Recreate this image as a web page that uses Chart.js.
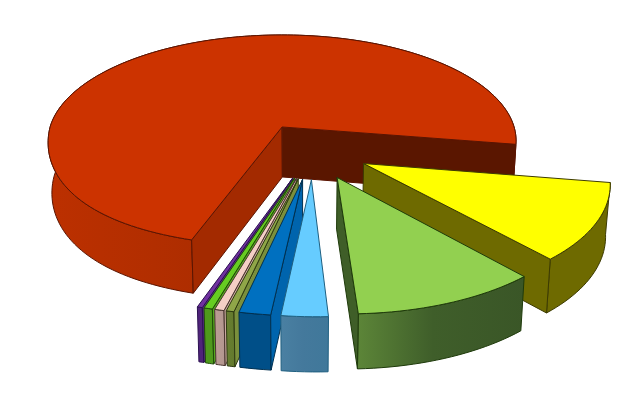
<!DOCTYPE html>
<html>
<head>
<meta charset="utf-8">
<script src="https://cdn.jsdelivr.net/npm/chart.js@4"></script>
<style>html,body{margin:0;padding:0;background:#fff}canvas{display:block}</style>
</head>
<body>
<canvas id="c" width="622" height="415"></canvas>
<script>
const categories = ['Yellow','Green','Sky','Blue','Olive','Pink','Lime','Purple','Red'];
const seriesValues = [11.0, 10.7, 2.65, 1.8, 0.45, 0.55, 0.5, 0.3, 72.05];
const sliceOffsets = [190,204,204,204,204,204,204,204,204];
const topColors  = ['#FFFF00','#92D050','#66CCFF','#0070C0','#8FA648','#F4CFC6','#66CC22','#7030A0','#CC3300'];
const rimLeft    = ['#6E6A00','#5C8538','#4A80A2','#004F88','#687F30','#BC9C94','#4F9A1C','#4F237A','#BC3000'];
const rimMid     = ['#6E6A00','#3F5E2A','#44799C','#004F88','#667C2F','#B89A92','#4F9A1C','#4F237A','#A82C00'];
const rimRight   = ['#6E6A00','#3A5627','#40789A','#004F88','#647A2E','#B49790','#4F9A1C','#4F237A','#9C2900'];
const startWall  = ['#6E6A00','#3F5E28','#3F7FA0','#0064AD','#7A8F3C','#C9A79F','#55A81E','#5A2A88','#A32A00'];
const endWall    = ['#6E6A00','#3F5E28','#3F7FA0','#0064AD','#7A8F3C','#C9A79F','#55A81E','#5A2A88','#5A1600'];
const edgeColors = ['#3C3A00','#1E3A0A','#1F5F80','#003050','#2E3A10','#4A3530','#1F4A08','#2A1050','#5A1400'];
const paintOrder = [8,0,1,7,6,5,4,3,2];

// perspective of the pie plane, applied to the library's arc geometry
const view = {ox:282, oy:127, ax:232, ay:104, p:0.13, tx:0.129, ty:0.22, vx:300, shrink:0.985, bend:15};
let area = null;

const pie3d = {
  id:'pie3d',
  beforeDatasetsDraw(chart){
    area = chart.chartArea;
    const ctx = chart.ctx;
    const meta = chart.getDatasetMeta(0);
    paintOrder.forEach(i => drawSlice(ctx, meta.data[i], i));
    return false;
  }
};

function project(el, px, py){
  const R = el.outerRadius;
  const cx = (area.left + area.right)/2;
  const cy = (area.top + area.bottom)/2;
  const x = (px-cx)/R + view.tx, y = (py-cy)/R + view.ty;
  const w = 1 - view.p*y;
  const bend = (x<0 && y>0) ? view.bend*x*x*y : 0;
  return {X:view.ox + view.ax*x/w, Y:view.oy + view.ay*y/w + bend, w};
}
function lower(pt){
  const d = 50 + 27*(1-pt.w);
  return {X:view.vx + (pt.X-view.vx)*view.shrink, Y:pt.Y + d, w:pt.w};
}
function poly(ctx, pts, fill, stroke){
  ctx.beginPath();
  pts.forEach((p,k)=> k ? ctx.lineTo(p.X,p.Y) : ctx.moveTo(p.X,p.Y));
  ctx.closePath();
  ctx.fillStyle = fill; ctx.fill();
  ctx.lineWidth = 1; ctx.lineJoin='round'; ctx.strokeStyle = stroke; ctx.stroke();
}
function drawSlice(ctx, el, i){
  const a0 = el.startAngle, a1 = el.endAngle, mid = (a0+a1)/2;
  const off = (el.options.offset||0)/4;
  const bx = el.x + Math.cos(mid)*off, by = el.y + Math.sin(mid)*off;
  const R = el.outerRadius;
  const n = Math.max(4, Math.ceil((a1-a0)/0.03));
  const rim = [];
  for(let k=0;k<=n;k++){
    const a = a0 + (a1-a0)*k/n;
    rim.push(project(el, bx+Math.cos(a)*R, by+Math.sin(a)*R));
  }
  const apex = project(el, bx, by);
  const lowRim = rim.map(lower);
  let minX=1e9,maxX=-1e9;
  rim.forEach(p=>{ if(p.Y>apex.Y){minX=Math.min(minX,p.X);maxX=Math.max(maxX,p.X);} });
  if(maxX<=minX){minX=apex.X;maxX=apex.X+1;}
  const g = ctx.createLinearGradient(minX,0,maxX,0);
  g.addColorStop(0,rimLeft[i]); g.addColorStop(0.45,rimMid[i]); g.addColorStop(1,rimRight[i]);
  poly(ctx, rim.concat(lowRim.slice().reverse()), g, edgeColors[i]);

  const inner = rim[Math.floor(n/2)];
  const cross = (a,b)=> a.X*b.Y - a.Y*b.X;
  const wall = (P,color)=>{
    const e = {X:P.X-apex.X, Y:P.Y-apex.Y};
    const s1 = cross(e,{X:inner.X-apex.X,Y:inner.Y-apex.Y});
    const s2 = cross(e,{X:0,Y:1});
    if(s1*s2<0) poly(ctx,[apex,P,lower(P),lower(apex)],color,edgeColors[i]);
  };
  wall(rim[0], startWall[i]);
  wall(rim[n], endWall[i]);
  poly(ctx,[apex].concat(rim),topColors[i],edgeColors[i]);
}

new Chart(document.getElementById('c'),{
  type:'pie',
  data:{labels:categories,datasets:[{data:seriesValues,backgroundColor:topColors,borderColor:edgeColors,borderWidth:1,offset:sliceOffsets}]},
  options:{
    responsive:false,animation:false,devicePixelRatio:1,
    radius:200,rotation:99.4,
    layout:{padding:0},
    plugins:{legend:{display:false},tooltip:{enabled:false},title:{display:false}}
  },
  plugins:[pie3d]
});
</script>
</body>
</html>
